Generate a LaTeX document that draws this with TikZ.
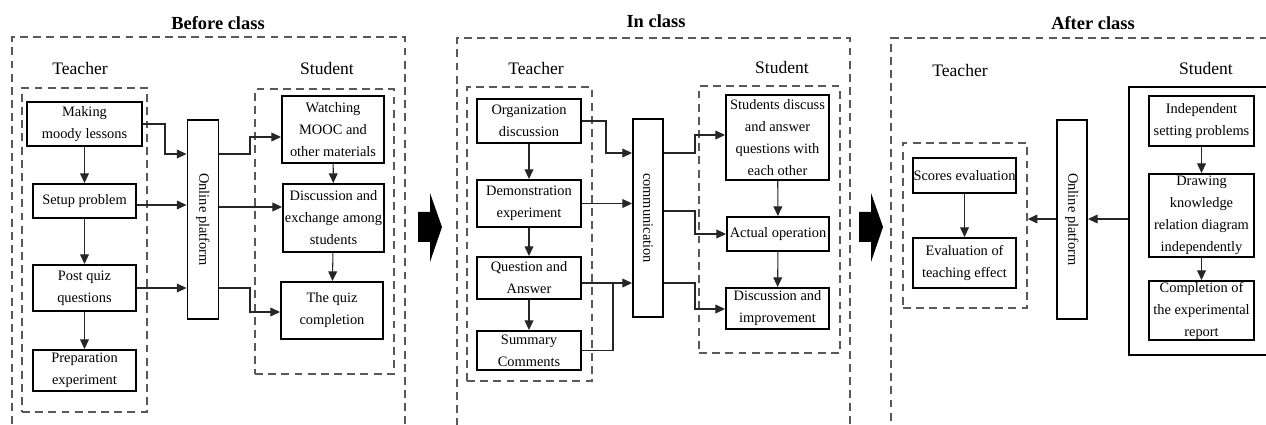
\documentclass[tikz,border=0pt]{standalone}
\usepackage{fontspec}
\setmainfont{Liberation Serif}
\usetikzlibrary{arrows.meta}

\begin{document}
\begin{tikzpicture}[
  x=0.02cm, y=-0.02cm,
  font=\fontsize{8.2}{12.5}\selectfont,
  box/.style={draw, line width=1.1pt, align=center, inner sep=0pt, minimum width=2.06cm},
  bar/.style={draw, line width=1.1pt, inner sep=0pt, minimum width=0.62cm, minimum height=3.98cm},
  grp/.style={draw=black!65, line width=0.85pt, dash pattern=on 4.5pt off 3pt, inner sep=0pt},
  role/.style={font=\fontsize{10}{12}\selectfont},
  phase/.style={font=\fontsize{10.5}{12}\selectfont\bfseries},
  arr/.style={draw=black!85, line width=0.6pt, -{Triangle[length=5.5pt,width=5pt]}},
  lnk/.style={draw=black!85, line width=0.6pt}
]
\useasboundingbox (0,0) rectangle (1266,425);
\clip (0,0) rectangle (1266,425);

% frames
\node[grp, minimum width=7.86cm, minimum height=8.06cm] (before) at (208.5,238.5) {};
\node[grp, minimum width=7.86cm, minimum height=8.04cm] (inclass) at (653.5,239) {};
\node[grp, minimum width=8.18cm, minimum height=8.04cm] (after) at (1095.5,239) {};
\node[phase] at (218,23) {Before class};
\node[phase] at (656,21) {In class};
\node[phase] at (1093,23) {After class};

\node[role] at (80,68) {Teacher};
\node[role] at (327,68) {Student};
\node[role] at (536,68) {Teacher};
\node[role] at (782,67) {Student};
\node[role] at (960,70) {Teacher};
\node[role] at (1206,68) {Student};

\node[grp, minimum width=2.5cm, minimum height=6.48cm] (t1) at (84.5,250) {};
\node[grp, minimum width=2.78cm, minimum height=5.7cm] (s1) at (324.5,231.5) {};
\node[grp, minimum width=2.5cm, minimum height=5.88cm] (t2) at (529.5,234) {};
\node[grp, minimum width=2.82cm, minimum height=5.34cm] (s2) at (769.5,219.5) {};
\node[grp, minimum width=2.48cm, minimum height=3.3cm] (t3) at (965,225.5) {};
\node[draw, line width=1.1pt, minimum width=3.42cm, minimum height=5.36cm] (s3) at (1214.5,221) {};

% before class
\node[box, minimum width=2.3cm, minimum height=0.88cm] (mk) at (84.5,124) {Making\\moody lessons};
\node[box, minimum height=0.68cm] (sp) at (84.5,201) {Setup problem};
\node[box, minimum height=0.92cm] (pq) at (84.5,288) {Post quiz\\questions};
\node[box, minimum height=0.82cm] (pe) at (84.5,370.5) {Preparation\\experiment};
\node[bar] (op1) at (203,219.5) {};
\node[rotate=-90] at (op1) {Online platform};
\node[box, minimum width=2.04cm, minimum height=1.34cm] (wm) at (333,129.5) {Watching\\MOOC and\\other materials};
\node[box, minimum width=2.02cm, minimum height=1.36cm] (de) at (333.5,218) {Discussion and\\exchange among\\students};
\node[box, minimum width=2.04cm, minimum height=1.14cm] (qc) at (332,310.5) {The quiz\\completion};

\draw[arr] (mk) -- (sp);
\draw[arr] (sp) -- (pq);
\draw[arr] (pq) -- (pe);
\draw[arr] (wm) -- (de);
\draw[arr] (de) -- (qc);
\draw[arr] (mk.east) -- (165,124) |- (op1.west |- 0,154);
\draw[arr] (sp.east |- 0,205) -- (op1.west |- 0,205);
\draw[arr] (pq.east) -- (op1.west |- pq.east);
\draw[arr] (op1.east |- 0,154) -- (250,154) |- (wm.west |- 0,137);
\draw[arr] (op1.east |- 0,207) -- (de.west |- 0,207);
\draw[arr] (op1.east |- 0,288) -- (250,288) |- (qc.west |- 0,312);

% in class
\node[box, minimum width=2.08cm, minimum height=0.88cm] (od) at (529,121) {Organization\\discussion};
\node[box, minimum width=2.08cm, minimum height=0.94cm] (dx) at (529,203.5) {Demonstration\\experiment};
\node[box, minimum width=2.08cm, minimum height=0.84cm] (qa) at (529,278) {Question and\\Answer};
\node[box, minimum width=2.08cm, minimum height=0.78cm] (sc) at (529,350.5) {Summary\\Comments};
\node[bar, minimum width=0.6cm, minimum height=3.96cm] (cm) at (648,218) {};
\node[rotate=-90] at (cm) {communication};
\node[box, minimum height=1.7cm] (sd) at (777.5,137.5) {Students discuss\\and answer\\questions with\\each other};
\node[box, minimum width=2.04cm, minimum height=0.68cm] (ao) at (778,234) {Actual operation};
\node[box, minimum height=0.82cm] (di) at (777.5,308.5) {Discussion and\\improvement};
\coordinate (qj) at (613,283);

\draw[arr] (od) -- (dx);
\draw[arr] (dx) -- (qa);
\draw[arr] (qa) -- (sc);
\draw[arr] (sd) -- (ao);
\draw[arr] (ao) -- (di);
\draw[arr] (od.east) -- (606,121) |- (cm.west |- 0,153);
\draw[arr] (dx.east) -- (cm.west |- dx.east);
\draw[arr] (qa.east |- qj) -- (cm.west |- qj);
\draw[lnk] (sc.east) -| (qj);
\draw[arr] (cm.east |- 0,153) -- (695,153) |- (sd.west |- 0,135);
\draw[arr] (cm.east |- 0,211) -- (695,211) |- (ao.west);
\draw[arr] (cm.east |- 0,283) -- (695,283) |- (di.west |- 0,309);

% after class
\node[box, minimum height=0.7cm] (se) at (964.5,175.5) {Scores evaluation};
\node[box, minimum height=1cm] (et) at (964.5,263) {Evaluation of\\teaching effect};
\node[bar, minimum width=0.6cm] (op3) at (1072,219.5) {};
\node[rotate=-90] at (op3) {Online platform};
\node[box, minimum width=2.1cm, minimum height=1cm] (ip) at (1201.5,121) {Independent\\setting problems};
\node[box, minimum width=2.1cm, minimum height=1.66cm] (dk) at (1201.5,215.5) {Drawing\\knowledge\\relation diagram\\independently};
\node[box, minimum width=2.1cm, minimum height=1.18cm] (ce) at (1201.5,310.5) {Completion of\\the experimental\\report};

\draw[arr] (se) -- (et);
\draw[arr] (ip) -- (dk);
\draw[arr] (dk) -- (ce);
\draw[arr] (s3.west |- 0,219) -- (op3.east |- 0,219);
\draw[arr] (op3.west |- 0,219) -- (t3.east |- 0,219);

% phase arrows
\foreach \bx in {418,859}
  \fill (\bx,212) -- ++(12,0) -- ++(0,-19) -- ++(12,34) -- ++(-12,35) -- ++(0,-20) -- ++(-12,0) -- cycle;
\end{tikzpicture}
\end{document}
